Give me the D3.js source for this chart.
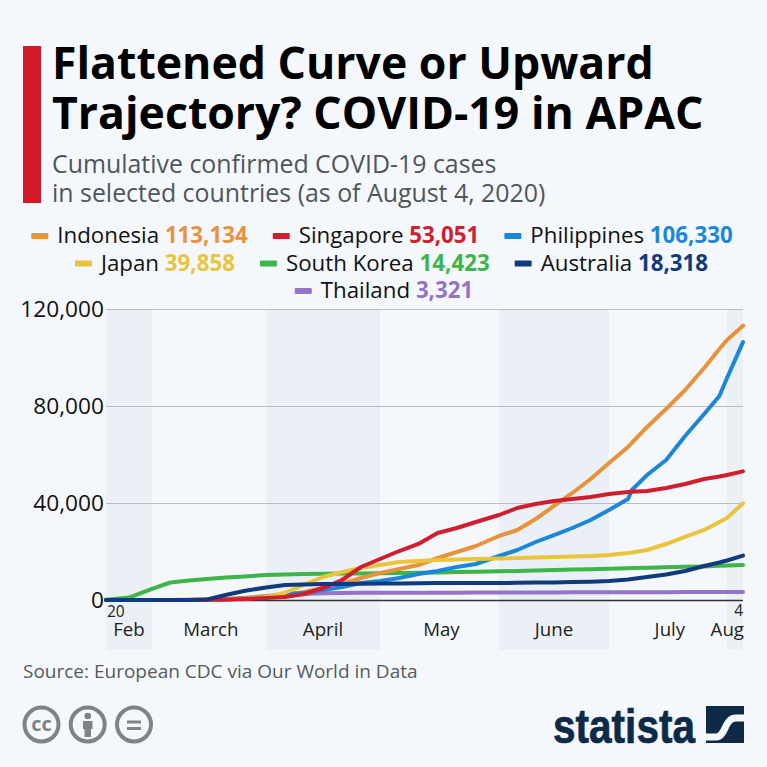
<!DOCTYPE html>
<html>
<head>
<meta charset="utf-8">
<script src="https://cdn.jsdelivr.net/npm/d3@7"></script>
<style>
  html, body { margin: 0; padding: 0; background: #f4f8fc; }
  svg { display: block; font-family: "Open Sans", sans-serif; }
</style>
</head>
<body>
<svg id="chart" width="767" height="767"></svg>
<script>
var dates = ["2020-02-20","2020-02-25","2020-03-01","2020-03-06","2020-03-11","2020-03-16","2020-03-21","2020-03-26",
  "2020-04-01","2020-04-06","2020-04-11","2020-04-16","2020-04-21","2020-04-26",
  "2020-05-01","2020-05-06","2020-05-11","2020-05-16","2020-05-21","2020-05-26",
  "2020-06-01","2020-06-06","2020-06-11","2020-06-16","2020-06-21","2020-06-26",
  "2020-07-01","2020-07-06","2020-07-07","2020-07-11","2020-07-16","2020-07-21","2020-07-26","2020-07-30",
  "2020-08-01","2020-08-04"];

var indonesia = [0,0,0,0,80,160,400,800,1650,2060,3300,4950,6600,9070,11130,12780,14430,17320,19800,22270,26390,28870,33400,38770,44130,49900,56500,63100,64750,71350,78770,86600,95680,103500,107200,113134];
var singapore = [0,0,0,0,0,80,200,410,820,1240,2470,4950,8250,13600,16900,20200,23100,27630,29700,32170,35050,37940,39590,40830,41650,42480,43710,44540,44600,44950,46190,47840,49900,50930,51550,53051];
var philippines = [0,0,0,0,0,0,80,620,1240,2470,2890,4120,5360,7010,7840,9070,10720,11960,13610,14850,18150,20620,23920,26800,29690,32990,37120,41650,45360,51550,57740,67630,76700,84130,91550,106330];
var japan = [0,0,0,0,100,200,300,500,1200,3000,6300,9490,11550,13200,14430,15670,16080,16500,16700,16900,17110,17320,17530,17730,17940,18150,18560,19380,19590,20620,23090,25980,28870,32170,33820,39858];
var southKorea = [80,1030,4540,7220,8040,8660,9280,9690,10310,10520,10720,10800,10890,10970,11050,11130,11220,11340,11550,11670,11840,11960,12170,12370,12540,12700,12910,13110,13150,13320,13530,13690,13860,14100,14230,14423];
var australia = [0,0,0,0,0,200,2060,3710,5160,6190,6390,6600,6600,6680,6760,6850,6930,7010,7010,7010,7010,7090,7180,7260,7420,7550,7840,8450,8660,9490,10520,11960,14020,15460,16290,18318];
var thailand = [0,0,0,0,0,100,300,800,1500,2000,2500,2750,2850,2950,2960,3000,3020,3030,3040,3060,3090,3120,3130,3140,3150,3160,3170,3190,3200,3220,3240,3260,3290,3305,3310,3321];

var seriesNames = ["Indonesia","Singapore","Philippines","Japan","South Korea","Australia","Thailand"];
var seriesValues = [indonesia,singapore,philippines,japan,southKorea,australia,thailand];
var seriesTotals = ["113,134","53,051","106,330","39,858","14,423","18,318","3,321"];
var seriesColors = ["#e8923a","#cf1f2e","#1c87d9","#e9c53d","#3db548","#0f3a7c","#9474c7"];
var legendRows = [[0,1,2],[3,4,5],[6]];
var drawOrder = [6,4,0,2,3,1,5];

var yTicks = [0,40000,80000,120000];
var axisDates = ["2020-02-20","2020-03-01","2020-04-01","2020-05-01","2020-06-01","2020-07-01","2020-08-01","2020-08-04"];
var shadedMonths = [[0,1],[2,3],[4,5],[6,7]];
var monthLabels = ["Feb","March","April","May","June","July","Aug"];
var monthLabelDates = ["2020-02-25","2020-03-17","2020-04-16","2020-05-17","2020-06-16","2020-07-17","2020-07-31"];

var parse = d3.utcParse("%Y-%m-%d");
var svg = d3.select("#chart");

// the month widths in the source are not quite even, so x is piecewise
var x = d3.scaleUtc()
  .domain(axisDates.map(parse))
  .range([106,152,266,380,499,609,727,743]);
var y = d3.scaleLinear().domain([0,120000]).range([600,309]);

// header
svg.append("rect").attr("x",23).attr("y",46).attr("width",18).attr("height",157).attr("fill","#d11a27");
svg.selectAll(".title").data(["Flattened Curve or Upward","Trajectory? COVID-19 in APAC"]).enter().append("text")
  .attr("x",52).attr("y",(d,i)=>79+i*50)
  .attr("font-size",44.6).attr("font-weight",700).attr("fill","#000").text(d=>d);
svg.selectAll(".sub").data(["Cumulative confirmed COVID-19 cases","in selected countries (as of August 4, 2020)"]).enter().append("text")
  .attr("x",52).attr("y",(d,i)=>173+i*28.5)
  .attr("font-size",24.9).attr("fill","#50555b").text(d=>d);

// legend rows, the source does not centre them all on the same axis
var legendCenters = [382,391.5,384];
legendRows.forEach(function(row,r){
  var rowY = 243+r*27.5;
  var g = svg.append("g");
  var cx = 0;
  row.forEach(function(s,k){
    g.append("rect").attr("x",cx).attr("y",rowY-10).attr("width",17).attr("height",6).attr("rx",1).attr("fill",seriesColors[s]);
    var t = g.append("text").attr("x",cx+26).attr("y",rowY).attr("font-size",22.3);
    t.append("tspan").attr("fill","#111").text(seriesNames[s]+" ");
    t.append("tspan").attr("fill",seriesColors[s]).attr("font-weight",700).text(seriesTotals[s]);
    cx += 26+t.node().getComputedTextLength()+(k<row.length-1?25:0);
  });
  g.attr("transform","translate("+(legendCenters[r]-cx/2)+",0)");
});

// month bands
svg.selectAll(".band").data(shadedMonths).enter().append("rect")
  .attr("x",d=>x(parse(axisDates[d[0]])))
  .attr("width",d=>x(parse(axisDates[d[1]]))-x(parse(axisDates[d[0]])))
  .attr("y",309).attr("height",341).attr("fill","#ebf0f7");

// axes
var yAxis = svg.append("g").attr("transform","translate(106,0)")
  .call(d3.axisLeft(y).tickValues(yTicks).tickSize(-637).tickPadding(2).tickFormat(d3.format(",")));
yAxis.select(".domain").remove();
yAxis.selectAll("line").attr("stroke",d=>d===0?"#333":"#b9bcc0").attr("stroke-width",d=>d===0?1.5:1);
yAxis.selectAll("text").attr("font-size",22.7).attr("fill","#111").attr("font-family","'Open Sans', sans-serif");

// lines
var line = d3.line().x((d,i)=>x(parse(dates[i]))).y(d=>y(d));
svg.selectAll(".series").data(drawOrder).enter().append("path")
  .attr("d",s=>line(seriesValues[s]))
  .attr("fill","none").attr("stroke",s=>seriesColors[s])
  .attr("stroke-width",4).attr("stroke-linejoin","round").attr("stroke-linecap","round");

// x labels
svg.selectAll(".month").data(monthLabels).enter().append("text")
  .attr("x",(d,i)=>i===6?744:x(parse(monthLabelDates[i])))
  .attr("y",636).attr("text-anchor",(d,i)=>i===6?"end":"middle")
  .attr("font-size",18.7).attr("fill","#222").text(d=>d);
svg.append("text").attr("x",107).attr("y",617).attr("font-size",15.5).attr("fill","#222").text("20");
svg.append("text").attr("x",743).attr("y",616).attr("text-anchor","end").attr("font-size",15.5).attr("fill","#222").text("4");

// footer
svg.append("text").attr("x",23).attr("y",678).attr("font-size",19).attr("fill","#555a60")
  .text("Source: European CDC via Our World in Data");

var iconGrey = "#808285";
[41.5,87.7,134].forEach(function(cx){
  svg.append("circle").attr("cx",cx).attr("cy",724.5).attr("r",17)
    .attr("fill","none").attr("stroke",iconGrey).attr("stroke-width",4);
});
svg.append("text").attr("x",41.5).attr("y",731).attr("text-anchor","middle")
  .attr("font-size",20).attr("font-weight",700).attr("fill",iconGrey).text("cc");
svg.append("circle").attr("cx",87.7).attr("cy",716).attr("r",3.3).attr("fill",iconGrey);
svg.append("path").attr("d","M83,721 H92.5 V729 H91 V737 H84.5 V729 H83 Z").attr("fill",iconGrey);
svg.append("rect").attr("x",127).attr("y",720.5).attr("width",14).attr("height",3).attr("fill",iconGrey);
svg.append("rect").attr("x",127).attr("y",727).attr("width",14).attr("height",3).attr("fill",iconGrey);

svg.append("text").attr("x",553).attr("y",743).attr("textLength",142).attr("lengthAdjust","spacingAndGlyphs")
  .attr("font-family","'Liberation Sans Narrow','Liberation Sans',sans-serif")
  .attr("font-size",49).attr("font-weight",700).attr("fill","#0f2a47")
  .attr("stroke","#0f2a47").attr("stroke-width",0.7).text("statista");
svg.append("rect").attr("x",706).attr("y",706).attr("width",38).attr("height",37).attr("fill","#0f2a47");
svg.append("path").attr("d","M704,737 L716,737 C726,737 724,718 736,718 L746,718").attr("fill","none")
  .attr("stroke","#f4f8fc").attr("stroke-width",7);
</script>
</body>
</html>
